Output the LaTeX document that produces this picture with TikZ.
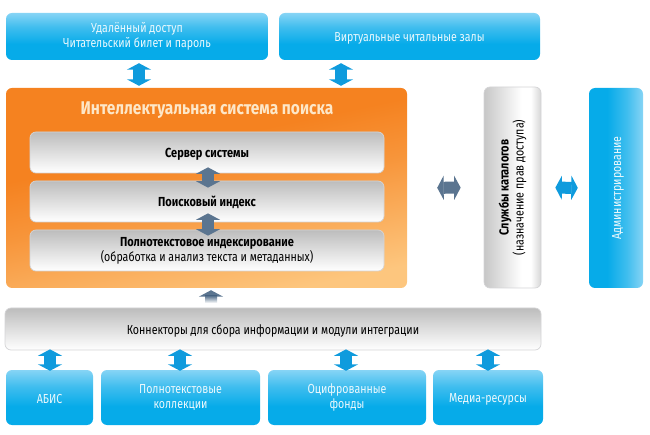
\documentclass[tikz,border=0pt]{standalone}
\usepackage{fontspec}
\setmainfont[FakeStretch=0.81,BoldFeatures={FakeStretch=0.84}]{Fira Sans}
\usetikzlibrary{arrows.meta}
\definecolor{blueA}{HTML}{06ABE9}
\definecolor{blueB}{HTML}{86D4F5}
\definecolor{blueC}{HTML}{0F9BDD}
\definecolor{slateA}{HTML}{5B7590}
\definecolor{orangeA}{HTML}{F58220}
\definecolor{orangeB}{HTML}{FDC67E}
\definecolor{textlight}{HTML}{EAF8FD}
\definecolor{titlelight}{HTML}{FDE7C8}
\definecolor{edgegrey}{HTML}{D4D4D6}
\pgfdeclareverticalshading{blueshade}{100bp}{color(0bp)=(blueA);color(25bp)=(blueA);color(42bp)=(blueA);color(60bp)=(blueA!55!blueB);color(75bp)=(blueB);color(100bp)=(blueB)}
\pgfdeclareverticalshading{greyshade}{100bp}{color(0bp)=(white);color(25bp)=(white);color(33bp)=(white!96!black);color(75bp)=(black!26);color(100bp)=(black!26)}
\pgfdeclareverticalshading{orangeshade}{100bp}{color(0bp)=(orangeB);color(25bp)=(orangeB);color(48bp)=(orangeA!72!orangeB);color(60bp)=(orangeA);color(75bp)=(orangeA);color(100bp)=(orangeA)}
\pgfdeclarehorizontalshading{catshade}{100bp}{color(0bp)=(black!22);color(25bp)=(black!22);color(58bp)=(white);color(66bp)=(white);color(75bp)=(black!16);color(100bp)=(black!16)}
\tikzset{
  boxbase/.style={rectangle,rounded corners=6pt,inner sep=0pt,align=center,font=\fontsize{13.1}{15}\selectfont,execute at begin node={\rule{0pt}{13pt}}},
  bluebox/.style={boxbase,shading=blueshade,text=textlight},
  greybox/.style={boxbase,shading=greyshade,draw=edgegrey,line width=0.7pt,text=black},
  catbox/.style={boxbase,shading=catshade,shading angle=0,draw=edgegrey,line width=0.7pt,text=black},
  orangebox/.style={rectangle,rounded corners=6pt,inner sep=0pt,shading=orangeshade,shading angle=12},
  dblv/.style={draw=#1,line width=12pt,{Triangle[length=6.5pt,width=24pt,#1]}-{Triangle[length=6.5pt,width=24pt,#1]}},
  single/.style={draw=#1,line width=12pt,-{Triangle[length=6.5pt,width=24pt,#1]}}
}
\begin{document}
\begin{tikzpicture}[x=1pt,y=-1pt]
\useasboundingbox (0,0) rectangle (650,435);
\node[bluebox,minimum width=262pt,minimum height=47pt] (top1) at (137,36.5) {Удалённый доступ\\Читательский билет и пароль};
\node[bluebox,minimum width=261pt,minimum height=47pt] (top2) at (409.5,36.5) {Виртуальные читальные залы};
\node[orangebox,minimum width=401pt,minimum height=200pt] (core) at (206.5,188) {};
\node[text=titlelight,font=\fontsize{18.4}{20}\selectfont\bfseries,inner sep=0pt] (title) at (207,110.5) {Интеллектуальная система поиска};
\node[greybox,minimum width=354pt,minimum height=41pt] (srv) at (207,152.5) {\bfseries Сервер системы};
\node[greybox,minimum width=354pt,minimum height=41pt] (idx) at (207,201.5) {\bfseries Поисковый индекс};
\node[greybox,minimum width=354pt,minimum height=41pt] (fti) at (207,250.5) {{\bfseries Полнотекстовое индексирование}\\(обработка и анализ текста и метаданных)};
\node[catbox,rotate=90,minimum width=201pt,minimum height=57pt] (cat) at (512.5,187.5) {{\bfseries Службы каталогов}\\(назначение прав доступа)};
\node[bluebox,shading angle=-90,rotate=90,minimum width=200pt,minimum height=54pt] (adm) at (616,188) {Администрирование};
\node[greybox,minimum width=536pt,minimum height=42pt] (conn) at (273,329) {Коннекторы для сбора информации и модули интеграции};
\node[bluebox,minimum width=87pt,minimum height=55pt] (abis) at (49.5,397.5) {АБИС};
\node[bluebox,minimum width=159pt,minimum height=55pt] (full) at (180.5,397.5) {Полнотекстовые\\коллекции};
\node[bluebox,minimum width=158pt,minimum height=55pt] (digi) at (347,397.5) {Оцифрованные\\фонды};
\node[bluebox,minimum width=110pt,minimum height=55pt] (media) at (488,397.5) {Медиа-ресурсы};
% connectors
\draw[dblv=blueC,shorten <=3pt,shorten >=2pt] ([xshift=2pt]top1.south) -- ([xshift=-67.5pt]core.north);
\draw[dblv=blueC,shorten <=3pt,shorten >=2pt] ([xshift=-68.5pt]top2.south) -- ([xshift=134.5pt]core.north);
\draw[dblv=slateA,shorten <=-6pt,shorten >=-7pt] ([xshift=1pt]srv.south) -- ([xshift=1pt]idx.north);
\draw[dblv=slateA,shorten <=-9pt,shorten >=-6pt] ([xshift=1pt]idx.south) -- ([xshift=1pt]fti.north);
\draw[dblv=slateA,shorten <=30pt,shorten >=23pt] (core.east) -- (cat.north);
\draw[dblv=blueC,shorten <=14pt,shorten >=11pt] (cat.south) -- (adm.north);
\draw[single=slateA,shorten <=6pt,shorten >=2pt] ([xshift=-62pt]conn.north) -- ([xshift=4.5pt]core.south);
\shade[top color=slateA,bottom color=white] (205,296) rectangle (217,303);
\draw[dblv=blueC,shorten <=-1pt,shorten >=-1pt] ([xshift=-223pt]conn.south) -- ([xshift=0.5pt]abis.north);
\draw[dblv=blueC,shorten <=-1pt,shorten >=-1pt] ([xshift=-93pt]conn.south) -- ([xshift=-0.5pt]full.north);
\draw[dblv=blueC,shorten <=-1pt,shorten >=-1pt] ([xshift=73pt]conn.south) -- ([xshift=-1pt]digi.north);
\draw[dblv=blueC,shorten <=-1pt,shorten >=-1pt] ([xshift=215pt]conn.south) -- (media.north);
\end{tikzpicture}
\end{document}
